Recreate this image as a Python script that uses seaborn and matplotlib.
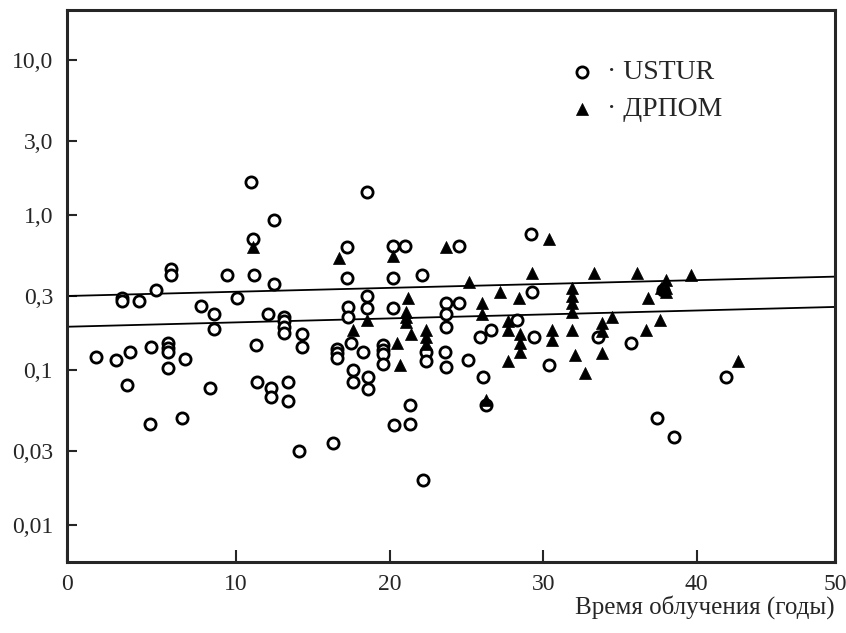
import numpy as np
import pandas as pd
import matplotlib
matplotlib.use('Agg')
import matplotlib.pyplot as plt
import seaborn as sns

# USTUR (open circles)
ustur_x = [0.9, 2.2, 3.1, 4.5, 5.6, 5.6, 5.6, 6.7, 5.6, 2.9, 8.3, 4.4, 6.5,
           2.6, 2.6, 3.7, 4.8, 5.8, 5.8, 7.7, 8.6, 8.6, 9.4, 10.1, 11.0, 11.1, 11.2, 11.3, 11.4,
           12.5, 12.5, 12.1, 13.1, 13.1, 13.1, 13.1, 14.3, 14.3, 12.3, 12.3, 13.4, 13.4, 14.1,
           16.3, 16.6, 16.6, 16.6, 17.2, 17.2, 17.3, 17.3, 17.5, 17.6, 17.6, 18.3, 18.5, 18.5, 18.5, 18.6, 18.6,
           19.6, 19.6, 19.6, 19.6, 20.2, 21.0, 20.2, 20.2, 20.3, 21.3, 21.3, 22.1, 22.2, 22.4, 22.4,
           23.7, 23.7, 23.7, 23.7, 23.6,
           24.5, 24.5, 25.1, 25.9, 26.1, 26.3, 26.6, 28.3, 29.2, 29.3, 29.4, 30.4, 33.6, 35.7,
           37.4, 37.8, 38.5, 41.9]
ustur_y = [0.121, 0.116, 0.13, 0.14, 0.149, 0.139, 0.131, 0.118, 0.103, 0.08, 0.077, 0.045, 0.049,
           0.29, 0.28, 0.28, 0.33, 0.445, 0.41, 0.26, 0.228, 0.185, 0.41, 0.29, 1.62, 0.70, 0.41, 0.145, 0.084,
           0.93, 0.36, 0.228, 0.22, 0.207, 0.19, 0.173, 0.17, 0.14, 0.077, 0.067, 0.084, 0.063, 0.030,
           0.034, 0.137, 0.128, 0.12, 0.62, 0.39, 0.254, 0.221, 0.15, 0.10, 0.083, 0.13, 1.40, 0.30, 0.25, 0.09, 0.075,
           0.145, 0.135, 0.126, 0.11, 0.63, 0.63, 0.39, 0.25, 0.044, 0.045, 0.059, 0.41, 0.0195, 0.13, 0.115,
           0.27, 0.228, 0.19, 0.104, 0.13,
           0.63, 0.27, 0.116, 0.162, 0.09, 0.059, 0.18, 0.21, 0.75, 0.32, 0.164, 0.108, 0.162, 0.15,
           0.049, 0.33, 0.037, 0.09]

# ДРПОМ (filled triangles)
dpom_x = [11.1, 16.7, 17.6, 18.5, 20.2, 20.5, 20.7, 21.2, 21.1, 21.1, 21.1, 21.4, 22.4, 22.4, 22.4,
          23.7, 25.2, 26.0, 26.0, 26.3, 27.2, 27.7, 27.7, 27.7, 28.4, 28.5, 28.5, 28.5, 29.3, 30.4,
          30.6, 30.6, 31.9, 31.9, 31.9, 31.9, 31.9, 32.1, 32.7, 33.3, 33.8, 33.8, 33.8, 34.5, 36.1,
          36.7, 36.8, 37.6, 37.7, 38.0, 38.0, 38.0, 39.6, 42.7]
dpom_y = [0.62, 0.525, 0.18, 0.21, 0.54, 0.15, 0.107, 0.29, 0.237, 0.218, 0.204, 0.17, 0.18, 0.162, 0.147,
          0.62, 0.37, 0.27, 0.228, 0.064, 0.32, 0.206, 0.18, 0.115, 0.29, 0.17, 0.15, 0.13, 0.42, 0.70,
          0.18, 0.155, 0.34, 0.30, 0.27, 0.235, 0.18, 0.124, 0.096, 0.42, 0.2, 0.178, 0.128, 0.22, 0.42,
          0.18, 0.29, 0.21, 0.34, 0.38, 0.34, 0.32, 0.41, 0.115]

# линии регрессии (значения на краях оси)
line_x = [-1.0, 49.0]
line_upper = [0.30, 0.40]
line_lower = [0.19, 0.255]

y_ticks = [0.01, 0.03, 0.1, 0.3, 1.0, 3.0, 10.0]
y_labels = ['0,01', '0,03', '0,1', '0,3', '1,0', '3,0', '10,0']
x_ticks = [-1.0, 10, 20, 30, 40, 49.0]
x_labels = ['0', '10', '20', '30', '40', '50']

df_u = pd.DataFrame({'x': ustur_x, 'y': ustur_y})
df_d = pd.DataFrame({'x': dpom_x, 'y': dpom_y})

sns.set_style('ticks')
plt.rcParams['font.family'] = ['Liberation Serif', 'DejaVu Serif']

fig = plt.figure(figsize=(8.46, 6.33), dpi=100)
ax = fig.add_axes([0.0792, 0.1122, 0.9078, 0.872])

ax.plot(line_x, line_upper, color='black', lw=1.3)
ax.plot(line_x, line_lower, color='black', lw=1.3)

sns.scatterplot(x='x', y='y', data=df_u, ax=ax, marker='o', s=65,
                facecolor='white', edgecolor='black', linewidth=2.0, label='· USTUR', zorder=3)
sns.scatterplot(x='x', y='y', data=df_d, ax=ax, marker='^', s=75,
                color='black', edgecolor='black', linewidth=0.5, label='· ДРПОМ', zorder=4)

ax.set_yscale('log')
ax.set_ylim(0.00577, 21)
ax.set_xlim(line_x[0], line_x[1])
ax.set_yticks(y_ticks)
ax.set_yticklabels(y_labels)
ax.minorticks_off()
ax.set_xticks(x_ticks)
ax.set_xticklabels(x_labels)
ax.tick_params(axis='y', direction='in', length=7, width=1.5, labelsize=17, pad=10)
ax.tick_params(axis='x', direction='in', length=9, width=1.5, labelsize=17, pad=9)
for s in ax.spines.values():
    s.set_linewidth(2.2)

ax.set_xlabel('Время облучения (годы)', fontsize=18, loc='right', labelpad=0)
ax.set_ylabel('')

leg = ax.legend(loc='upper left', bbox_to_anchor=(0.623, 0.945), frameon=False,
                fontsize=20, handlelength=1.2, handletextpad=0.3, labelspacing=0.4,
                markerscale=1.0, borderpad=0.2)

fig.savefig('out.png', dpi=100)
